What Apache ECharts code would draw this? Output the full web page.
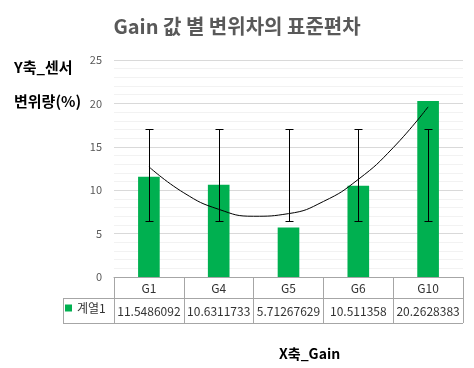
<!DOCTYPE html>
<html><head><meta charset="utf-8">
<script src="https://cdn.jsdelivr.net/npm/echarts@6/dist/echarts.min.js"></script>
<style>html,body{margin:0;padding:0;background:#fff}#c{width:474px;height:368px}</style>
</head><body><div id="c"></div>
<script>
const categories = ['G1', 'G4', 'G5', 'G6', 'G10'];
const values = [11.5486092, 10.6311733, 5.71267629, 10.511358, 20.2628383];
const errLow = [6.45, 6.45, 6.45, 6.45, 6.45];
const errHigh = [17.02, 17.02, 17.02, 17.02, 17.02];
const trendX = [1, 1.5, 2, 2.5, 3, 3.5, 4, 4.5, 5];
const trendY = [12.7, 9.7, 7.8, 7.0, 7.3, 8.7, 11.25, 14.9, 19.6];
const yTicks = [0, 5, 10, 15, 20, 25];

const FONT = '"Noto Sans CJK KR", "Noto Sans", sans-serif';
const chart = echarts.init(document.getElementById('c'));
const L = 114, R = 463, T = 60, B = 277;
const border = '#a6a6a6';
chart.setOption({
  animation: false,
  textStyle: { fontFamily: FONT },
  title: [
    { text: 'Gain 값 별 변위차의 표준편차', left: 'center', top: 11,
      textStyle: { fontSize: 20, fontWeight: 'bold', color: '#595959', fontFamily: FONT } },
    { text: 'Y축_센서', left: 9, top: 55,
      textStyle: { fontSize: 15, fontWeight: 'bold', color: '#000', fontFamily: FONT } },
    { text: '변위량(%)', left: 9, top: 89,
      textStyle: { fontSize: 15, fontWeight: 'bold', color: '#000', fontFamily: FONT } },
    { text: 'X축_Gain', left: 274, top: 342,
      textStyle: { fontSize: 14, fontWeight: 'bold', color: '#000', fontFamily: FONT } }
  ],
  legend: {
    data: ['계열1'], left: 65, top: 302, padding: 0, icon: 'rect',
    itemWidth: 7, itemHeight: 7, itemGap: 4,
    textStyle: { fontSize: 12, color: '#333', fontFamily: FONT }
  },
  grid: { left: L, right: 474 - R, top: T, bottom: 368 - B },
  xAxis: [
    { type: 'category', data: categories,
      axisLine: { lineStyle: { color: border } },
      axisTick: { show: true, length: 46, lineStyle: { color: border } },
      axisLabel: {
        margin: 1, interval: 0,
        formatter: (v, i) => '{c|' + v + '}\n{v|' + String(values[i]) + '}',
        rich: {
          c: { fontSize: 12, lineHeight: 21, color: '#333', fontFamily: FONT },
          v: { fontSize: 12, lineHeight: 25, color: '#333', fontFamily: FONT }
        }
      }
    },
    { type: 'value', min: 0.5, max: 5.5, show: false }
  ],
  yAxis: {
    type: 'value', min: 0, max: 25, interval: 5,
    axisLine: { show: false }, axisTick: { show: false },
    axisLabel: { color: '#595959', fontSize: 11, margin: 12, fontFamily: FONT,
      formatter: v => yTicks.includes(v) ? String(v) : '' },
    splitLine: { lineStyle: { color: '#d9d9d9' } },
    minorTick: { show: false, splitNumber: 5 },
    minorSplitLine: { show: true, lineStyle: { color: '#f2f2f2' } }
  },
  graphic: [
    { type: 'line', shape: { x1: L, y1: 298.5, x2: R, y2: 298.5 }, style: { stroke: border, lineWidth: 1 }, silent: true },
    { type: 'line', shape: { x1: 63, y1: 323.5, x2: R, y2: 323.5 }, style: { stroke: border, lineWidth: 1 }, silent: true },
    { type: 'line', shape: { x1: 63, y1: 298.5, x2: L, y2: 298.5 }, style: { stroke: border, lineWidth: 1 }, silent: true },
    { type: 'line', shape: { x1: 63.5, y1: 298.5, x2: 63.5, y2: 323.5 }, style: { stroke: border, lineWidth: 1 }, silent: true }
  ],
  series: [
    { name: '계열1', type: 'bar', data: values, barWidth: '31%',
      itemStyle: { color: '#00b050' } },
    { name: 'err', type: 'custom', z: 5,
      data: categories.map((c, i) => [i, errLow[i], errHigh[i]]),
      encode: { x: 0, y: [1, 2] },
      renderItem: (params, api) => {
        const lo = api.coord([api.value(0), api.value(1)]);
        const hi = api.coord([api.value(0), api.value(2)]);
        const x = Math.round(lo[0]) + 0.5, w = 4;
        const st = { stroke: '#000', lineWidth: 1 };
        return { type: 'group', children: [
          { type: 'line', shape: { x1: x, y1: lo[1], x2: x, y2: hi[1] }, style: st },
          { type: 'line', shape: { x1: x - w, y1: Math.round(lo[1]) + 0.5, x2: x + w, y2: Math.round(lo[1]) + 0.5 }, style: st },
          { type: 'line', shape: { x1: x - w, y1: Math.round(hi[1]) + 0.5, x2: x + w, y2: Math.round(hi[1]) + 0.5 }, style: st }
        ] };
      }
    },
    { name: 'trend', type: 'line', xAxisIndex: 1, z: 6, smooth: true, symbol: 'none',
      data: trendX.map((x, i) => [x, trendY[i]]),
      lineStyle: { color: '#000', width: 1 } }
  ]
});
</script></body></html>
